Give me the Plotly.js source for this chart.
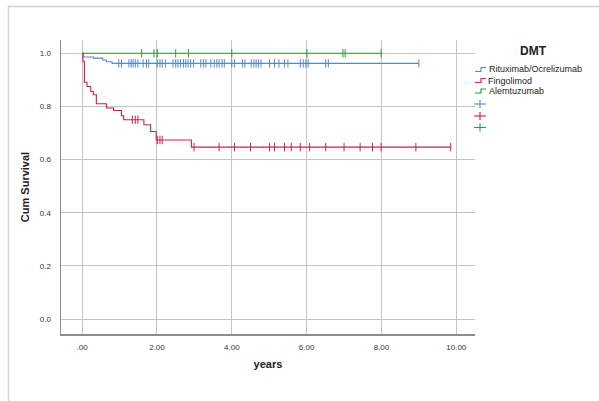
<!DOCTYPE html>
<html>
<head>
<meta charset="utf-8">
<script src="https://cdn.plot.ly/plotly-3.0.1.min.js"></script>
<style>
html,body{margin:0;padding:0;background:#fff;}
#chart{width:599px;height:401px;}
</style>
</head>
<body>
<div id="chart"></div>
<script>
// ---- data ----
const groups = ["Rituximab/Ocrelizumab", "Fingolimod", "Alemtuzumab"];

const ritTimes = [0, 0.03, 0.3, 0.55, 0.65, 0.8, 9.0];
const ritSurv  = [1, 0.986, 0.982, 0.975, 0.968, 0.962, 0.962];
const ritCensor = [0.98,1.05,1.25,1.31,1.36,1.42,1.49,1.63,1.72,1.78,2.01,2.08,2.14,2.23,2.43,2.50,2.56,2.63,2.71,2.77,2.83,2.90,2.98,3.17,3.24,3.31,3.44,3.53,3.60,3.66,3.74,3.80,4.00,4.07,4.29,4.35,4.52,4.59,4.65,4.71,4.78,5.01,5.14,5.26,5.41,5.50,5.83,5.91,5.98,6.04,6.51,6.58,9.0];

const fingTimes = [0, 0.02, 0.06, 0.13, 0.23, 0.30, 0.38, 0.65, 0.84, 1.05, 1.11, 1.65, 1.83, 1.98, 2.92, 9.85];
const fingSurv  = [1, 0.97, 0.891, 0.875, 0.856, 0.844, 0.81, 0.794, 0.785, 0.765, 0.75, 0.731, 0.706, 0.674, 0.647, 0.647];
const fingCensor = [1.34,1.42,1.49,2.01,2.08,2.14,2.99,3.66,4.07,4.50,5.01,5.14,5.41,5.59,5.83,6.08,6.51,7.00,7.43,7.76,7.99,8.92,9.85];

const alemTimes = [0, 8.0];
const alemSurv  = [1, 1];
const alemCensor = [1.59,1.92,2.01,2.50,2.84,4.00,6.01,6.97,7.03,7.99];

const xTickVals = [0, 2, 4, 6, 8, 10];
const xTickText = [".00", "2.00", "4.00", "6.00", "8.00", "10.00"];
const yTickVals = [0, 0.2, 0.4, 0.6, 0.8, 1.0];
const yTickText = ["0.0", "0.2", "0.4", "0.6", "0.8", "1.0"];

const colors = ["#5089d2", "#cc1f4a", "#2e9a3a"];

// survival value at time t from a step function
function survAt(times, surv, t) {
  let v = surv[0];
  for (let i = 0; i < times.length; i++) { if (times[i] <= t + 1e-9) v = surv[i]; }
  return v;
}

const sets = [
  [ritTimes, ritSurv, ritCensor],
  [fingTimes, fingSurv, fingCensor],
  [alemTimes, alemSurv, alemCensor]
];

const traces = [];
sets.forEach((s, i) => {
  traces.push({
    x: s[0], y: s[1], type: "scatter", mode: "lines",
    line: {shape: "hv", color: colors[i], width: 1.1},
    name: groups[i], showlegend: false, hoverinfo: "skip"
  });
});
sets.forEach((s, i) => {
  traces.push({
    x: s[2], y: s[2].map(t => survAt(s[0], s[1], t)), type: "scatter", mode: "markers",
    marker: {symbol: "line-ns-open", size: 6, color: colors[i], line: {color: colors[i], width: 1}},
    name: groups[i] + "-censored", showlegend: false, hoverinfo: "skip"
  });
});

// plot area in pixels: x 61..475, y 40..334
const L = 61, R = 475, T = 40, B = 334;
const px = p => (p - L) / (R - L);
const py = q => (B - q) / (B - T);

const shapes = [
  // outer frame
  {type: "rect", xref: "paper", yref: "paper", x0: px(8.5), x1: px(640), y0: py(440), y1: py(6.5),
   line: {color: "#d2d2d2", width: 1.5}, fillcolor: "rgba(0,0,0,0)", layer: "below"}
];
const annotations = [
  {xref: "paper", yref: "paper", x: px(533), y: py(51), text: "<b>DMT</b>", showarrow: false,
   font: {family: "Liberation Sans, Arial, sans-serif", size: 12, color: "#222"}, xanchor: "center", yanchor: "middle"}
];
const rowsY = [69.5, 80.5, 91];
groups.forEach((g, i) => {
  const yb = rowsY[i] + 2, yt = rowsY[i] - 2;
  shapes.push({type: "path", xref: "paper", yref: "paper",
    path: `M ${px(475)},${py(yb)} L ${px(481)},${py(yb)} L ${px(481)},${py(yt)} L ${px(486)},${py(yt)}`,
    line: {color: colors[i], width: 1.1}});
  annotations.push({xref: "paper", yref: "paper", x: px(486.5), y: py(rowsY[i]), text: g, showarrow: false,
    font: {family: "Liberation Sans, Arial, sans-serif", size: 9, color: "#222"}, xanchor: "left", yanchor: "middle"});
});
const plusY = [104, 116, 127.5];
plusY.forEach((yy, i) => {
  shapes.push({type: "line", xref: "paper", yref: "paper", x0: px(474), x1: px(486), y0: py(yy), y1: py(yy),
    line: {color: colors[i], width: 1.1}});
  shapes.push({type: "line", xref: "paper", yref: "paper", x0: px(480), x1: px(480), y0: py(yy - 4), y1: py(yy + 4),
    line: {color: colors[i], width: 1.1}});
});

const axisFont = {family: "Liberation Sans, Arial, sans-serif", size: 8, color: "#333"};
const titleFont = {family: "Liberation Sans, Arial, sans-serif", size: 11, color: "#222", weight: "bold"};

const layout = {
  width: 599, height: 401,
  margin: {l: L, r: 599 - R, t: T, b: 401 - B, pad: 0},
  paper_bgcolor: "#ffffff", plot_bgcolor: "#ffffff",
  showlegend: false,
  xaxis: {
    range: [-0.565, 10.5], tickvals: xTickVals, ticktext: xTickText,
    showgrid: true, gridcolor: "#c4c4c4", gridwidth: 1, zeroline: false,
    showline: true, linecolor: "#8c8c8c", linewidth: 1.5, mirror: false,
    ticks: "", ticklabelstandoff: 5, tickfont: axisFont,
    title: {text: "<b>years</b>", font: titleFont, standoff: 9}
  },
  yaxis: {
    range: [-0.056, 1.05], tickvals: yTickVals, ticktext: yTickText,
    showgrid: true, gridcolor: "#c4c4c4", gridwidth: 1, zeroline: false,
    showline: true, linecolor: "#8c8c8c", linewidth: 1.5, mirror: false,
    ticks: "", ticklabelstandoff: 7, tickfont: axisFont,
    title: {text: "<b>Cum Survival</b>", font: titleFont, standoff: 8}
  },
  shapes: shapes,
  annotations: annotations
};

Plotly.newPlot("chart", traces, layout, {displayModeBar: false, staticPlot: true});
</script>
</body>
</html>
